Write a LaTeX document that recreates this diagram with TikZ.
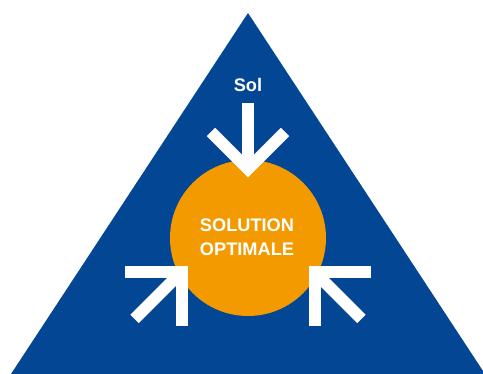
\documentclass[tikz,border=0pt]{standalone}
\usepackage{fontspec}
\setmainfont{Liberation Sans}
\usepackage{xcolor}
\usetikzlibrary{positioning,calc}
\definecolor{triblue}{RGB}{3,71,148}
\definecolor{solorange}{RGB}{243,154,0}

\begin{document}
\begin{tikzpicture}[x=1pt,y=1pt,
    whitetext/.style={text=white,font=\fontsize{18.2}{24}\selectfont\bfseries,align=center},
    shaft/.style={draw=white,line width=12pt,line cap=butt},
    chevron/.style={draw=white,line width=12pt,line cap=butt,line join=miter}
  ]
    \useasboundingbox (0,0) rectangle (483,374);
    % Triangle
    \fill[triblue] (11,0) -- (248,361) -- (485,0) -- cycle;

    % Central solution
    \node[circle,fill=solorange,minimum size=156pt,inner sep=0pt] (sol) at (248,136) {};
    \node[whitetext] (soltext) at (247,136.5) {SOLUTION\\OPTIMALE};
    \node[whitetext] (top) at (248,288.5) {Sol};

    % Arrow from top
    \coordinate (t0) at (248,271);
    \coordinate (t1) at (248,205);
    \draw[shaft] (t0) -- (t1);
    \draw[chevron] (211,242) -- (t1) -- (285,242);

    % Arrow from bottom left
    \coordinate (l0) at (134.5,55);
    \coordinate (l1) at (181.5,102);
    \draw[shaft] (l0) -- (l1);
    \draw[chevron] (125,102) -- (l1) -- (181.5,48);

    % Arrow from bottom right
    \coordinate (r0) at (361.5,55);
    \coordinate (r1) at (314.5,102);
    \draw[shaft] (r0) -- (r1);
    \draw[chevron] (371,102) -- (r1) -- (314.5,48);
  \end{tikzpicture}
\end{document}
